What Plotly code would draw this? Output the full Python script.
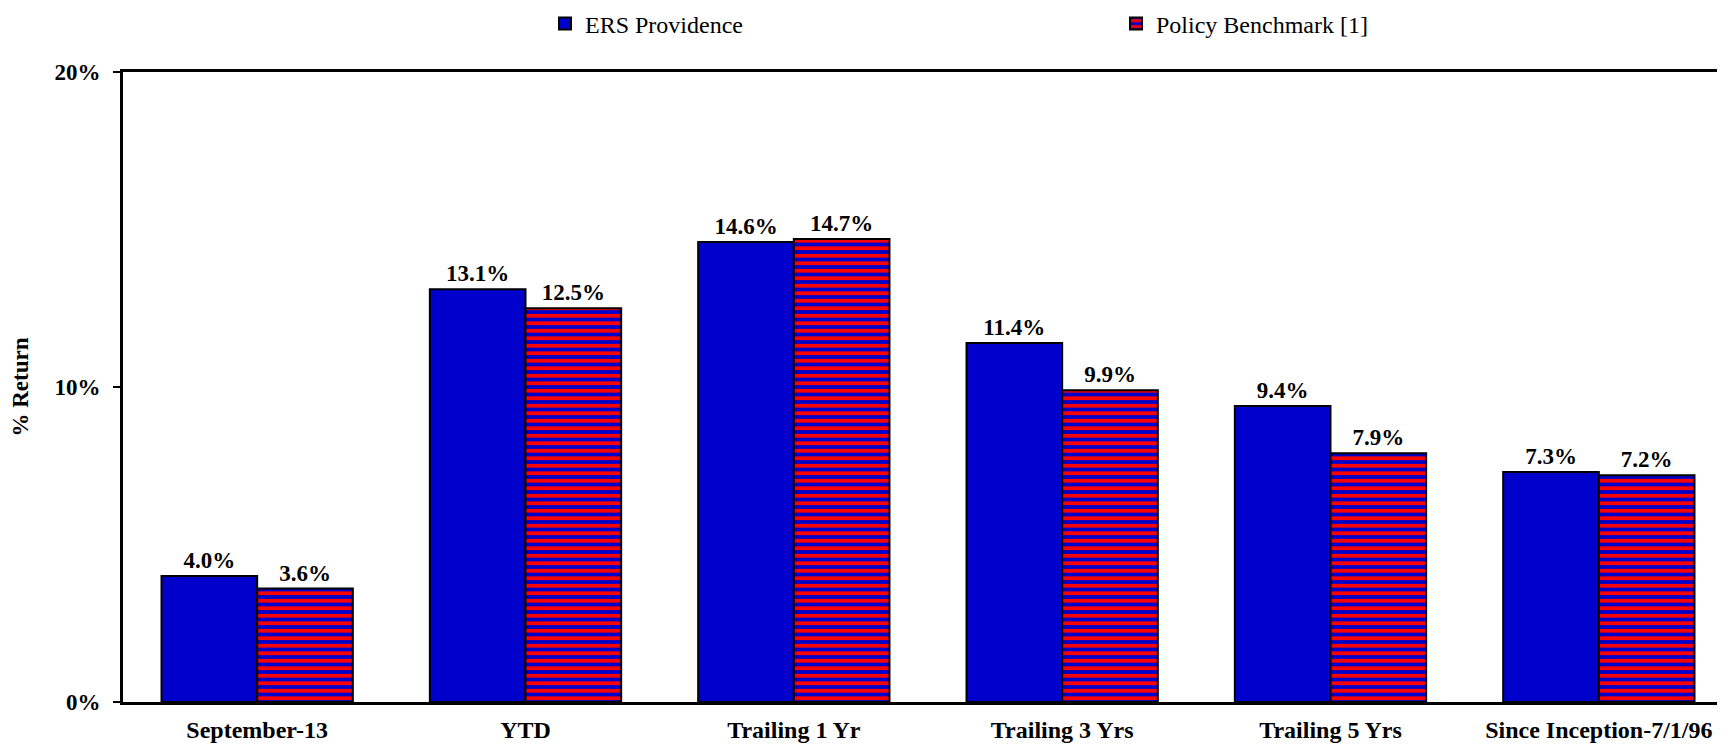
"""Grouped bar chart: ERS Providence vs policy benchmark returns."""

import plotly.graph_objects as go

PERIODS = ["September-13", "YTD", "Trailing 1 Yr", "Trailing 3 Yrs", "Trailing 5 Yrs", "Since Inception-7/1/96"]
ERS_RETURNS = [4.0, 13.1, 14.6, 11.4, 9.4, 7.3]
BENCHMARK_RETURNS = [3.6, 12.5, 14.7, 9.9, 7.9, 7.2]
Y_TICKS = [0, 10, 20]
Y_TICK_LABELS = ["0%", "10%", "20%"]

FONT = "Liberation Serif, Times New Roman, serif"
BLUE = "#0000CC"
RED = "#FF0000"
LABEL_FONT = {"family": FONT, "size": 23, "color": "#000000", "weight": "bold"}

# the page body has an 8px margin; the plot is let run past the right edge like the original
WIDTH = 1725
HEIGHT = 737

fig = go.Figure()
fig.add_trace(
    go.Bar(
        x=PERIODS,
        y=ERS_RETURNS,
        name="ERS Providence",
        legend="legend",
        marker={"color": BLUE, "line": {"color": "#000000", "width": 2}},
        texttemplate="%{y:.1f}%",
        textposition="outside",
        textfont=LABEL_FONT,
        cliponaxis=False,
    )
)
fig.add_trace(
    go.Bar(
        x=PERIODS,
        y=BENCHMARK_RETURNS,
        name="Policy Benchmark [1]",
        legend="legend2",
        marker={
            "color": BLUE,
            "line": {"color": "#000000", "width": 2},
            "pattern": {"shape": "-", "fgcolor": RED, "bgcolor": BLUE, "size": 7.5, "solidity": 0.5, "fillmode": "replace"},
        },
        texttemplate="%{y:.1f}%",
        textposition="outside",
        textfont=LABEL_FONT,
        cliponaxis=False,
    )
)

legend_style = {
    "orientation": "h",
    "xref": "container",
    "yref": "container",
    "xanchor": "left",
    "y": 1 - 16 / HEIGHT,
    "yanchor": "middle",
    "font": {"family": FONT, "size": 24, "color": "#000000"},
    "bgcolor": "rgba(0,0,0,0)",
}

fig.update_layout(
    width=WIDTH,
    height=HEIGHT,
    margin={"l": 115, "r": 0, "t": 64, "b": 43, "autoexpand": False},
    paper_bgcolor="white",
    plot_bgcolor="white",
    font={"family": FONT, "size": 23, "color": "#000000"},
    barmode="group",
    bargap=0.287,
    bargroupgap=0,
    showlegend=True,
    legend={**legend_style, "x": 537 / WIDTH},
    legend2={**legend_style, "x": 1108 / WIDTH},
    xaxis={
        "range": [-0.5, 5.5],
        "showline": True,
        "linecolor": "#000000",
        "linewidth": 3,
        "mirror": True,
        "ticks": "",
        "tickfont": {**LABEL_FONT, "size": 24},
        "ticklabelstandoff": 4,
        "showgrid": False,
        "automargin": False,
    },
    yaxis={
        "range": [0, 20],
        "tickvals": Y_TICKS,
        "ticktext": Y_TICK_LABELS,
        "showline": True,
        "linecolor": "#000000",
        "linewidth": 3,
        "ticks": "outside",
        "ticklen": 7,
        "tickwidth": 2,
        "tickcolor": "#000000",
        "tickfont": LABEL_FONT,
        "ticklabelstandoff": 8,
        "showgrid": False,
        "zeroline": False,
        "automargin": False,
        "title": {"text": "% Return", "font": LABEL_FONT, "standoff": 22},
    },
)

fig.write_html("out.html")
